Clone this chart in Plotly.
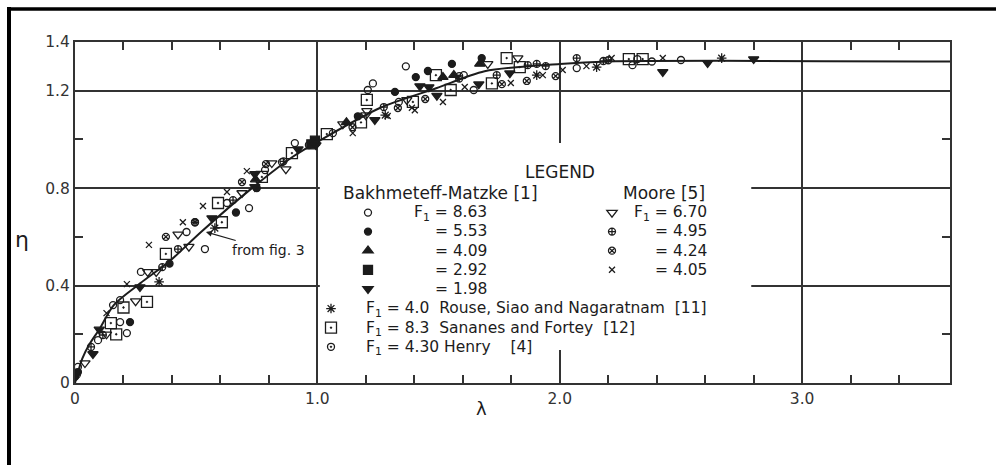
import plotly.graph_objects as go

# ---------------- data (lambda, eta) ----------------
curve_lam = [0, 0.03, 0.06, 0.10, 0.16, 0.27, 0.39, 0.52, 0.73, 0.90, 1.00, 1.26, 1.49, 1.69, 2.00, 2.20, 3.61]
curve_eta = [0, 0.10, 0.16, 0.22, 0.32, 0.41, 0.50, 0.62, 0.80, 0.93, 0.99, 1.13, 1.21, 1.28, 1.31, 1.32, 1.32]

bm863_lam = [0.012, 0.095, 0.157, 0.186, 0.186, 0.214, 0.272, 0.46, 0.536, 0.627, 0.718, 0.784, 0.854, 0.907, 0.965, 1.064, 1.208, 1.229, 1.336, 1.365, 1.604, 1.645, 2.07, 2.30, 2.32, 2.38, 2.50]
bm863_eta = [0.066, 0.176, 0.32, 0.34, 0.25, 0.205, 0.456, 0.62, 0.55, 0.739, 0.718, 0.874, 0.907, 0.985, 0.977, 1.026, 1.203, 1.23, 1.154, 1.30, 1.264, 1.203, 1.293, 1.305, 1.33, 1.32, 1.326]

bm553_lam = [0.0, 0.012, 0.227, 0.39, 0.664, 0.75, 1.167, 1.32, 1.406, 1.456, 1.555, 1.678]
bm553_eta = [0.025, 0.045, 0.25, 0.49, 0.70, 0.80, 1.095, 1.195, 1.256, 1.281, 1.31, 1.334]

bm409_lam = [0.745, 1.12, 1.518, 1.563, 1.67]
bm409_eta = [0.835, 1.07, 1.256, 1.264, 1.31]

bm292_lam = [0.975, 0.99]
bm292_eta = [0.98, 0.995]

bm198_lam = [0.074, 0.10, 0.268, 0.565, 0.742, 0.742, 0.92, 0.994, 1.237, 1.423, 1.46, 1.493, 1.666, 1.794, 2.425, 2.61, 2.80]
bm198_eta = [0.119, 0.22, 0.394, 0.677, 0.805, 0.858, 0.96, 0.977, 1.08, 1.219, 1.215, 1.18, 1.227, 1.272, 1.277, 1.314, 1.33]

m670_lam = [0.041, 0.13, 0.25, 0.30, 0.335, 0.425, 0.47, 0.689, 0.812, 0.87, 1.105, 1.20, 1.204, 1.369, 1.703, 1.827]
m670_eta = [0.082, 0.20, 0.336, 0.456, 0.456, 0.61, 0.56, 0.78, 0.903, 0.878, 1.063, 1.10, 1.117, 1.162, 1.31, 1.334]

m495_lam = [0.066, 0.115, 0.36, 0.425, 0.495, 0.652, 0.86, 1.274, 1.585, 1.74, 1.868, 1.905, 1.942, 2.07, 2.18, 2.20]
m495_eta = [0.148, 0.197, 0.476, 0.55, 0.66, 0.751, 0.91, 1.133, 1.25, 1.264, 1.305, 1.31, 1.301, 1.334, 1.322, 1.325]

m424_lam = [0.375, 0.495, 0.689, 0.788, 1.145, 1.332, 1.445, 1.761, 1.864, 1.983]
m424_eta = [0.60, 0.66, 0.825, 0.899, 1.05, 1.129, 1.166, 1.227, 1.24, 1.26]

m405_lam = [0.13, 0.214, 0.305, 0.445, 0.528, 0.627, 0.709, 1.146, 1.29, 1.39, 1.402, 1.518, 1.608, 1.798, 1.93, 2.012, 2.11, 2.214, 2.425]
m405_eta = [0.287, 0.406, 0.567, 0.66, 0.727, 0.784, 0.87, 1.026, 1.096, 1.13, 1.12, 1.154, 1.215, 1.232, 1.264, 1.285, 1.301, 1.334, 1.334]

rouse_lam = [0.347, 0.577, 1.28, 1.905, 2.152, 2.668]
rouse_eta = [0.415, 0.636, 1.10, 1.264, 1.297, 1.334]

sananes_lam = [0.148, 0.17, 0.20, 0.297, 0.375, 0.59, 0.606, 0.771, 0.895, 1.039, 1.18, 1.204, 1.394, 1.489, 1.55, 1.72, 1.781, 1.835, 2.285, 2.342]
sananes_eta = [0.246, 0.20, 0.31, 0.333, 0.53, 0.739, 0.66, 0.846, 0.944, 1.022, 1.07, 1.162, 1.154, 1.264, 1.203, 1.23, 1.334, 1.297, 1.33, 1.33]

henry_lam = [0.008, 0.995, 1.585]
henry_eta = [0.035, 0.985, 1.26]

x_major = [0, 1, 2, 3]
x_major_text = ["0", "1.0", "2.0", "3.0"]
x_minor = [0.2, 0.4, 0.6, 0.8, 1.2, 1.4, 1.6, 1.8, 2.2, 2.4, 2.6, 2.8, 3.2, 3.4]
y_major = [0, 0.4, 0.8, 1.2, 1.4]
y_major_text = ["0", "0.4", "0.8", "1.2", "1.4"]
y_minor = [0.2, 0.6, 1.0]

INK = "#1c1c1c"
FONT = "DejaVu Sans"


def lbl(s):
    return '<span style="font-size:15.5px">' + s + '</span>'


fig = go.Figure()

fig.add_trace(go.Scatter(x=curve_lam, y=curve_eta, mode="lines",
                         line=dict(color=INK, width=2, shape="spline", smoothing=0.8),
                         showlegend=False, hoverinfo="skip"))

series = [
    (bm863_lam, bm863_eta, "circle-open", 7, lbl("F<sub>1</sub> = 8.63"), "legend"),
    (bm553_lam, bm553_eta, "circle", 7, lbl("= 5.53"), "legend2"),
    (bm409_lam, bm409_eta, "triangle-up", 9, lbl("= 4.09"), "legend2"),
    (bm292_lam, bm292_eta, "square", 9, lbl("= 2.92"), "legend2"),
    (bm198_lam, bm198_eta, "triangle-down", 9, lbl("= 1.98"), "legend2"),
    (m670_lam, m670_eta, "triangle-down-open", 9, lbl("F<sub>1</sub> = 6.70"), "legend3"),
    (m495_lam, m495_eta, "circle-cross-open", 7, lbl("= 4.95"), "legend4"),
    (m424_lam, m424_eta, "circle-x-open", 7, lbl("= 4.24"), "legend4"),
    (m405_lam, m405_eta, "x-thin-open", 6, lbl("= 4.05"), "legend4"),
    (rouse_lam, rouse_eta, "asterisk-open", 8, lbl("F<sub>1</sub> = 4.0  Rouse, Siao and Nagaratnam  [11]"), "legend5"),
    (sananes_lam, sananes_eta, "square-open-dot", 11, lbl("F<sub>1</sub> = 8.3  Sananes and Fortey  [12]"), "legend5"),
    (henry_lam, henry_eta, "circle-open-dot", 7, lbl("F<sub>1</sub> = 4.30 Henry    [4]"), "legend5"),
]

for xs, ys, sym, size, name, lg in series:
    fig.add_trace(go.Scatter(
        x=xs, y=ys, mode="markers", name=name, legend=lg,
        marker=dict(symbol=sym, size=size, color=INK, line=dict(color=INK, width=1.3)),
    ))


# plot area: left 75 px, right 950 px, top 42 px, bottom 383 px
def px_x(p):
    return (p - 75) / 875.0


def px_y(p):
    return (383 - p) / 341.0


axis_common = dict(showline=True, linecolor="#333", linewidth=2, mirror="ticks", ticks="inside",
                   ticklen=8, tickwidth=1.6, tickcolor="#333", showgrid=True, gridcolor="#333",
                   gridwidth=1.5, zeroline=False, tickfont=dict(family=FONT, size=15.5, color="#333"))


def legend_box(left, top, itemwidth):
    return dict(x=px_x(left), y=px_y(top), xanchor="left", yanchor="top", bgcolor="rgba(0,0,0,0)",
                font=dict(family=FONT, size=12.4, color=INK), itemwidth=itemwidth,
                itemsizing="trace", tracegroupgap=0)


fig.update_layout(
    width=996, height=465,
    margin=dict(l=75, r=46, t=42, b=82),
    paper_bgcolor="white", plot_bgcolor="white",
    font=dict(family=FONT, color=INK),
    xaxis=dict(range=[0, 3.61], tickmode="array", tickvals=x_major, ticktext=x_major_text,
               minor=dict(tickmode="array", tickvals=x_minor, ticks="inside", ticklen=8, tickwidth=1.6,
                          tickcolor="#333", showgrid=False),
               **axis_common),
    yaxis=dict(range=[0, 1.4], tickmode="array", tickvals=y_major, ticktext=y_major_text,
               minor=dict(tickmode="array", tickvals=y_minor, ticks="inside", ticklen=8, tickwidth=1.6,
                          tickcolor="#333", showgrid=False),
               **axis_common),
    legend=legend_box(322, 198, 82),
    legend2=legend_box(301, 217, 124),
    legend3=legend_box(590, 198, 34),
    legend4=legend_box(569, 217, 76),
    legend5=legend_box(296, 294, 60),
    showlegend=True,
)

fig.add_shape(type="rect", xref="x", yref="y", x0=1.01, x1=2.79, y0=0.135, y1=0.985,
              fillcolor="white", line=dict(width=0), layer="between")

# outer frame (scan border)
fig.add_shape(type="line", xref="paper", yref="paper", x0=px_x(9), x1=px_x(9), y0=px_y(7), y1=px_y(470),
              line=dict(color="black", width=4))
fig.add_shape(type="line", xref="paper", yref="paper", x0=px_x(7), x1=px_x(1000), y0=px_y(9), y1=px_y(9),
              line=dict(color="black", width=3.5))

fig.add_annotation(text="LEGEND", xref="paper", yref="paper", x=px_x(560), y=px_y(172),
                   xanchor="center", yanchor="middle", showarrow=False,
                   font=dict(family=FONT, size=17, color=INK))
fig.add_annotation(text="Bakhmeteff-Matzke [1]", xref="paper", yref="paper", x=px_x(341), y=px_y(193),
                   xanchor="left", yanchor="middle", showarrow=False,
                   font=dict(family=FONT, size=17, color=INK))
fig.add_annotation(text="Moore [5]", xref="paper", yref="paper", x=px_x(621), y=px_y(193),
                   xanchor="left", yanchor="middle", showarrow=False,
                   font=dict(family=FONT, size=17, color=INK))
fig.add_annotation(text="η", xref="paper", yref="paper", x=px_x(22), y=px_y(240),
                   xanchor="center", yanchor="middle", showarrow=False,
                   font=dict(family=FONT, size=22, color=INK))
fig.add_annotation(text="λ", xref="paper", yref="paper", x=px_x(481), y=px_y(408),
                   xanchor="center", yanchor="middle", showarrow=False,
                   font=dict(family=FONT, size=18, color=INK))
fig.add_annotation(text="from fig. 3", x=0.54, y=0.62, xref="x", yref="y", ax=0.80, ay=0.546,
                   axref="x", ayref="y", showarrow=True, arrowhead=2, arrowsize=1, arrowwidth=1.2,
                   arrowcolor=INK, font=dict(family=FONT, size=14, color=INK))

fig.write_html("out.html")
